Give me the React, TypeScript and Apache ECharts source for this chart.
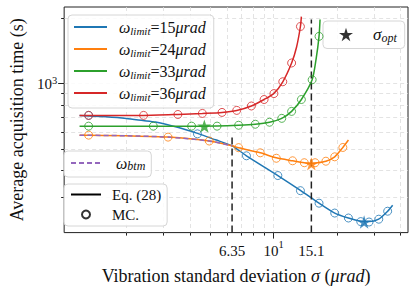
import React, { useEffect, useRef } from 'react';
import * as echarts from 'echarts';

const SERIF = '"Liberation Serif", "Times New Roman", serif';
const INK = '#111111';

// axis limits (data units)
const sigmaRange = [1.014, 43.4];
const timeRange = [206.5, 2255];

// ticks / labels
const sigmaTicks = [2, 3, 4, 5, 6, 7, 8, 9, 10, 20, 30, 40];
const sigmaMajorTicks = [10];
const sigmaLabelValues = [6.35, 10, 15.1];
const sigmaTickLabels = ['6.35', '10^1', '15.1'];
const timeTicks = [300, 400, 500, 600, 700, 800, 900, 1000, 2000];
const timeMajorTicks = [1000];
const timeTickLabels = ['10^3'];

// series
const limitValues = ['15', '24', '33', '36'];
const limitColors = ['#1f77b4', '#ff7f0e', '#2ca02c', '#d62728'];

// Eq. (28) curves
const eq15Sigma = [1.2, 1.6, 2.0, 2.4, 2.75, 3.5, 4.35, 5.3, 6.35, 7.43, 10.47, 13.4, 16.42, 19.49, 22.64, 25.9, 28.4, 31.5, 34.75, 36.7];
const eq15Time = [715, 704, 692, 677, 666, 630, 591, 552, 518, 466, 378, 323, 282, 254, 241, 233, 232, 238, 259, 276];
const eq24Sigma = [1.2, 1.325, 2.0, 3.155, 4.95, 6.35, 6.82, 8.64, 10.3, 12.3, 13.98, 15.1, 15.73, 17.7, 19.49, 21.3, 22.64];
const eq24Time = [580, 580, 576, 568, 545, 518, 507, 481, 456, 442, 433, 429, 431, 440, 461, 509, 551];
const eq33Sigma = [1.2, 1.325, 2.687, 4.08, 5.39, 6.82, 8.18, 9.56, 10.93, 12.17, 13.54, 15.23, 15.9, 16.42, 16.6];
const eq33Time = [638, 638, 638, 638, 639, 644, 651, 665, 693, 746, 846, 1043, 1299, 1652, 1975];
const eq36Sigma = [1.2, 1.325, 2.415, 3.513, 4.59, 5.69, 6.68, 7.84, 9.01, 10.03, 11.05, 12.17, 12.84, 13.4, 13.54];
const eq36Time = [715, 715, 715, 722, 730, 738, 753, 790, 846, 903, 1021, 1246, 1472, 1834, 2037];

// omega_btm curve
const btmSigma = [1.2, 2.0, 3.155, 4.95, 6.35];
const btmTime = [580, 576, 568, 545, 518];

// Monte-Carlo points
const mc15Sigma = [1.325, 4.35, 7.43, 10.47, 13.4, 16.42, 19.49, 22.64, 25.9, 28.36, 31.55, 34.75];
const mc15Time = [715, 588, 466, 378, 322, 282, 254, 241, 232, 231, 238, 259];
const mc24Sigma = [1.325, 3.155, 4.95, 6.82, 8.64, 10.3, 12.3, 13.98, 15.73, 17.7, 19.49, 21.3];
const mc24Time = [580, 568, 545, 508, 481, 454, 442, 433, 433, 440, 461, 509];
const mc33Sigma = [1.325, 2.687, 4.08, 5.39, 6.82, 8.18, 9.56, 10.93, 12.17, 13.54, 15.23, 16.42];
const mc33Time = [638, 638, 638, 638, 644, 651, 665, 693, 746, 846, 1043, 1652];
const mc36Sigma = [1.325, 2.415, 3.513, 4.59, 5.69, 6.68, 7.84, 9.01, 10.03, 11.05, 12.17, 13.4];
const mc36Time = [715, 715, 722, 730, 738, 754, 790, 846, 901, 1021, 1246, 1834];

// optimum points
const optSigma = [4.69, 15.1, 26.87];
const optTime = [638, 428, 231];
const optColors = ['#2ca02c', '#ff7f0e', '#1f77b4'];

// vertical dashed markers
const markSigma = [6.35, 15.1];
const markTopTime = [580, 1975];

const STAR = 'path://M50 0 L61.23 34.55 L97.55 34.55 L68.16 55.9 L79.39 90.45 L50 69.1 L20.61 90.45 L31.84 55.9 L2.45 34.55 L38.77 34.55 Z';

const L = Math.log10;
const pts = (xs: number[], ys: number[]) => xs.map((x, i) => [L(x), L(ys[i])]);

const eqSigma = [eq15Sigma, eq24Sigma, eq33Sigma, eq36Sigma];
const eqTime = [eq15Time, eq24Time, eq33Time, eq36Time];
const mcSigma = [mc15Sigma, mc24Sigma, mc33Sigma, mc36Sigma];
const mcTime = [mc15Time, mc24Time, mc33Time, mc36Time];

const lineNames = limitValues.map((v) => 'ω_limit=' + v + 'μrad');

function powLabel(t: string) {
  const [b, e] = t.split('^');
  return e ? '{b|' + b + '}{sup|' + e + '}' : '{b|' + t + '}';
}

const yTickRich = {
  b: { fontFamily: SERIF, fontSize: 15, lineHeight: 18, color: INK },
  sup: { fontFamily: SERIF, fontSize: 10.5, lineHeight: 11, verticalAlign: 'top', color: INK },
};
// taller line box pushes the x labels further below the axis
const xTickRich = {
  b: { fontFamily: SERIF, fontSize: 15, lineHeight: 30, color: INK },
  sup: { fontFamily: SERIF, fontSize: 10.5, lineHeight: 11, padding: [0, 0, 12, 0], color: INK },
};

const legendRich = {
  w0: { fontFamily: SERIF, fontStyle: 'italic', fontSize: 16, lineHeight: 18, color: INK, padding: [0, 0, 0, 7] },
  w: { fontFamily: SERIF, fontStyle: 'italic', fontSize: 16, lineHeight: 18, color: INK },
  s: { fontFamily: SERIF, fontStyle: 'italic', fontSize: 11, lineHeight: 11, verticalAlign: 'bottom', color: INK },
  s2: { fontFamily: SERIF, fontStyle: 'italic', fontSize: 12, lineHeight: 11, verticalAlign: 'bottom', color: INK },
  n: { fontFamily: SERIF, fontSize: 16, lineHeight: 18, color: INK },
  o0: { fontFamily: SERIF, fontStyle: 'italic', fontSize: 17, lineHeight: 18, color: INK, padding: [0, 0, 0, 15] },
  b0: { fontFamily: SERIF, fontStyle: 'italic', fontSize: 16, lineHeight: 18, color: INK, padding: [0, 0, 0, 8] },
  t0: { fontFamily: SERIF, fontSize: 15, lineHeight: 18, color: INK, padding: [0, 0, 0, 6] },
};

function legendText(name: string) {
  if (name.startsWith('ω_limit=')) {
    const v = name.replace('ω_limit=', '').replace('μrad', '');
    return '{w0|ω}{s|limit}{n|=' + v + '}{w|μrad}';
  }
  if (name === 'σ_opt') return '{o0|σ}{s2|opt}';
  if (name === 'ω_btm') return '{b0|ω}{s2|btm}';
  return '{t0|' + name + '}';
}

const boxStyle = {
  orient: 'vertical',
  backgroundColor: 'rgba(255,255,255,0.85)',
  borderColor: '#d6d6d6',
  borderWidth: 1,
  borderRadius: 4,
  selectedMode: false,
  formatter: legendText,
  textStyle: { fontFamily: SERIF, fontSize: 15, color: INK, rich: legendRich },
};

const hideSymbol = { opacity: 0 };

function buildOption() {
  const xMin = L(sigmaRange[0]);
  const xMax = L(sigmaRange[1]);
  const yMin = L(timeRange[0]);
  const yMax = L(timeRange[1]);
  const tickLine = { color: '#222', width: 1 };

  const series: any[] = [];
  limitValues.forEach((_, k) => {
    series.push({
      type: 'line',
      name: lineNames[k],
      data: pts(eqSigma[k], eqTime[k]),
      smooth: 0.25,
      symbol: 'none',
      lineStyle: { color: limitColors[k], width: 1.5 },
      itemStyle: { color: limitColors[k] },
      z: 3,
    });
  });
  series.push({
    type: 'line',
    name: 'ω_btm',
    data: pts(btmSigma, btmTime),
    smooth: 0.25,
    symbol: 'none',
    lineStyle: { color: '#9467bd', width: 1.5, type: [5, 3] },
    itemStyle: { color: '#9467bd' },
    z: 4,
  });
  markSigma.forEach((s, i) => {
    series.push({
      type: 'line',
      name: 'mark' + i,
      data: [[L(s), yMin], [L(s), L(markTopTime[i])]],
      symbol: 'none',
      lineStyle: { color: '#222', width: 1.5, type: [7, 4] },
      itemStyle: { color: '#222' },
      z: 5,
    });
  });
  limitValues.forEach((_, k) => {
    series.push({
      type: 'scatter',
      name: 'mc' + k,
      data: pts(mcSigma[k], mcTime[k]),
      symbol: 'circle',
      symbolSize: 8,
      itemStyle: { color: 'rgba(255,255,255,0)', borderColor: limitColors[k], borderWidth: 1 },
      z: 6,
    });
  });
  series.push({
    type: 'scatter',
    name: 'σ_opt',
    symbol: STAR,
    symbolKeepAspect: true,
    symbolSize: 14,
    data: optSigma.map((s, i) => ({ value: [L(s), L(optTime[i])], itemStyle: { color: optColors[i] } })),
    itemStyle: { color: '#000' },
    z: 8,
  });
  series.push({
    type: 'line',
    name: 'Eq. (28)',
    data: [],
    symbol: 'none',
    lineStyle: { color: '#000', width: 1.5 },
    itemStyle: { color: '#000' },
  });
  series.push({
    type: 'scatter',
    name: 'MC.',
    data: [],
    symbol: 'circle',
    itemStyle: { color: 'rgba(255,255,255,0)', borderColor: '#000', borderWidth: 1 },
  });

  return {
    animation: false,
    backgroundColor: '#fff',
    grid: { left: 57, top: 7, right: 8, bottom: 54, show: true, borderColor: '#222', borderWidth: 1 },
    xAxis: [
      {
        type: 'value',
        min: xMin,
        max: xMax,
        position: 'bottom',
        axisLine: { show: false },
        axisTick: { show: true, customValues: sigmaTicks.map(L), length: 3, lineStyle: tickLine },
        axisLabel: {
          customValues: sigmaLabelValues.map(L),
          margin: 3,
          fontFamily: SERIF,
          fontSize: 15,
          color: INK,
          formatter: (v: number) => {
            let best = 0;
            sigmaLabelValues.forEach((s, i) => {
              if (Math.abs(L(s) - v) < Math.abs(L(sigmaLabelValues[best]) - v)) best = i;
            });
            return powLabel(sigmaTickLabels[best]);
          },
          rich: xTickRich,
        },
        splitLine: { show: true, lineStyle: { color: '#dcdcdc', width: 0.8, type: [4, 3] } },
        name: 'Vibration standard deviation {i|σ} ({i|μrad})',
        nameLocation: 'middle',
        nameGap: 26,
        nameTextStyle: {
          fontFamily: SERIF,
          fontSize: 18,
          color: INK,
          rich: {
            i: { fontFamily: SERIF, fontSize: 18, fontStyle: 'italic', color: INK },
          },
        },
      },
      {
        type: 'value',
        min: xMin,
        max: xMax,
        position: 'bottom',
        axisLine: { show: false },
        axisTick: { show: true, customValues: sigmaMajorTicks.map(L), length: 6, lineStyle: tickLine },
        axisLabel: { show: false },
        splitLine: { show: false },
      },
    ],
    yAxis: [
      {
        type: 'value',
        min: yMin,
        max: yMax,
        position: 'left',
        axisLine: { show: false },
        axisTick: { show: true, customValues: timeTicks.map(L), length: 3, lineStyle: tickLine },
        axisLabel: {
          customValues: timeMajorTicks.map(L),
          margin: 7,
          fontFamily: SERIF,
          fontSize: 15,
          color: INK,
          formatter: () => powLabel(timeTickLabels[0]),
          rich: yTickRich,
        },
        splitLine: { show: true, lineStyle: { color: '#dcdcdc', width: 0.8, type: [4, 3] } },
        name: 'Average acquisition time (s)',
        nameLocation: 'middle',
        nameGap: 32,
        nameTextStyle: { fontFamily: SERIF, fontSize: 18, color: INK },
      },
      {
        type: 'value',
        min: yMin,
        max: yMax,
        position: 'left',
        axisLine: { show: false },
        axisTick: { show: true, customValues: timeMajorTicks.map(L), length: 6, lineStyle: tickLine },
        axisLabel: { show: false },
        splitLine: { show: false },
      },
    ],
    legend: [
      {
        ...boxStyle,
        data: lineNames.map((n) => ({ name: n, itemStyle: hideSymbol })),
        left: 68,
        top: 15,
        itemWidth: 33,
        itemHeight: 14,
        itemGap: 5,
        padding: [4, 8, 6, 5],
      },
      {
        ...boxStyle,
        data: [{ name: 'σ_opt', icon: STAR, itemStyle: { color: '#000' } }],
        left: 323,
        top: 21,
        itemWidth: 14,
        itemHeight: 14,
        padding: [5, 8, 5, 16],
      },
      {
        ...boxStyle,
        data: [{ name: 'ω_btm', itemStyle: hideSymbol }],
        left: 64,
        top: 151,
        itemWidth: 32,
        itemHeight: 14,
        padding: [4, 6, 5, 6],
      },
      {
        ...boxStyle,
        data: [{ name: 'Eq. (28)', itemStyle: hideSymbol }, 'MC.'],
        left: 64,
        top: 184,
        itemWidth: 30,
        itemHeight: 8,
        itemGap: 5,
        padding: [3, 6, 4, 6],
      },
    ],
    series,
  };
}

export default function App() {
  const ref = useRef<HTMLDivElement>(null);
  useEffect(() => {
    if (!ref.current) return;
    const chart = echarts.init(ref.current, null, { renderer: 'svg' });
    chart.setOption(buildOption() as any);
    return () => chart.dispose();
  }, []);
  return (
    <div
      ref={ref}
      style={{ position: 'fixed', left: 0, top: 0, width: 416, height: 290, background: '#fff' }}
    />
  );
}
